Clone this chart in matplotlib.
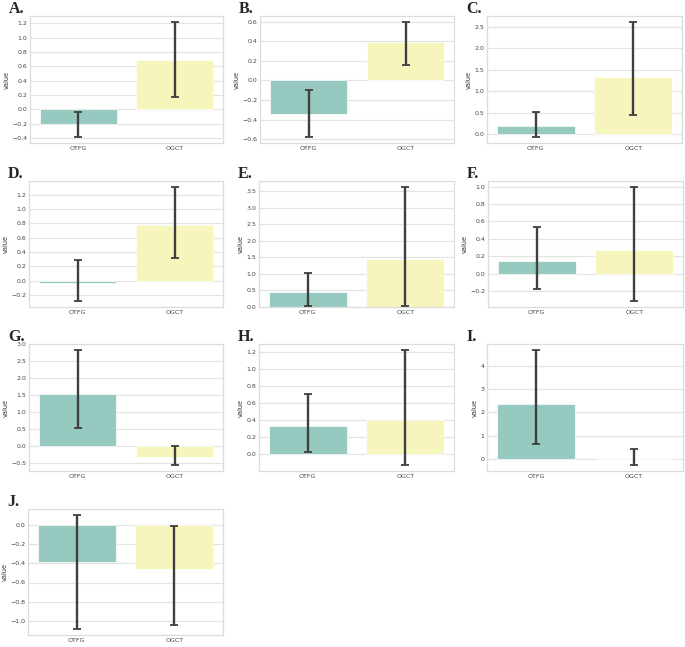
import matplotlib
matplotlib.use("Agg")
import matplotlib.pyplot as plt
import seaborn as sns
import numpy as np

sns.set_theme(style="whitegrid")
plt.rcParams['font.family'] = ['DejaVu Sans']

categories = ["OTFG", "OGCT"]
panel_labels = ["A.", "B.", "C.", "D.", "E.", "F.", "G.", "H.", "I.", "J."]

# bar means per panel (OTFG, OGCT)
means = {
    "A.": [-0.21, 0.69],
    "B.": [-0.34, 0.39],
    "C.": [0.18, 1.33],
    "D.": [-0.03, 0.77],
    "E.": [0.44, 1.45],
    "F.": [0.14, 0.27],
    "G.": [1.52, -0.33],
    "H.": [0.33, 0.40],
    "I.": [2.35, 0.0],
    "J.": [-0.38, -0.46],
}
# confidence interval lower / upper per panel (OTFG, OGCT)
ci_low = {
    "A.": [-0.39, 0.17],
    "B.": [-0.58, 0.16],
    "C.": [-0.07, 0.44],
    "D.": [-0.29, 0.31],
    "E.": [0.03, 0.03],
    "F.": [-0.18, -0.32],
    "G.": [0.53, -0.58],
    "H.": [0.02, -0.13],
    "I.": [0.65, -0.28],
    "J.": [-1.09, -1.05],
}
ci_high = {
    "A.": [-0.04, 1.22],
    "B.": [-0.10, 0.60],
    "C.": [0.52, 2.62],
    "D.": [0.29, 1.31],
    "E.": [1.02, 3.62],
    "F.": [0.54, 1.00],
    "G.": [2.84, 0.00],
    "H.": [0.71, 1.23],
    "I.": [4.70, 0.43],
    "J.": [0.11, -0.01],
}

W, H = 685, 647
fig = plt.figure(figsize=(W / 100, H / 100), dpi=100)

# axes boxes in pixels: left, top, right, bottom
boxes = {
    "A.": (30, 16, 223, 143),
    "B.": (260, 16, 454, 143),
    "C.": (487, 16, 682, 143),
    "D.": (29, 181, 223, 307),
    "E.": (259, 181, 454, 307),
    "F.": (488, 181, 683, 307),
    "G.": (29, 344, 223, 471),
    "H.": (259, 344, 454, 471),
    "I.": (487, 344, 683, 471),
    "J.": (28, 509, 223, 635),
}

palette = sns.color_palette("Set3", 2, desat=0.75)

for lab in panel_labels:
    l, t, r, b = boxes[lab]
    ax = fig.add_axes([l / W, 1 - b / H, (r - l) / W, (b - t) / H])
    m = np.array(means[lab])
    lo = np.array(ci_low[lab])
    hi = np.array(ci_high[lab])
    x = np.arange(len(categories))
    ax.bar(x, m, width=0.8, color=palette, edgecolor="white", linewidth=0.5, zorder=2)
    ax.errorbar(x, m, yerr=[m - lo, hi - m], fmt="none", ecolor="#3f3f3f",
                elinewidth=1.7, capsize=3, capthick=1.3, zorder=3)
    ax.set_xticks(x)
    ax.set_xticklabels(categories)
    ax.set_xlim(-0.5, 1.5)
    ax.grid(axis="x", visible=False)
    ax.grid(axis="y", color="#e3e3e3", linewidth=0.9)
    ax.set_axisbelow(True)
    for s in ax.spines.values():
        s.set_color("#dcdcdc")
        s.set_linewidth(0.9)
    ax.tick_params(axis="both", labelsize=4.5, colors="#444444", pad=2, length=0)
    ax.set_ylabel("value", fontsize=4.8, color="#333333", labelpad=2)
    fig.text((l - 21) / W, 1 - (t - 3) / H, lab, fontsize=11.5, fontweight="bold",
             family="Liberation Serif", ha="left", va="baseline")

fig.savefig("out.png", dpi=100, facecolor="white")
